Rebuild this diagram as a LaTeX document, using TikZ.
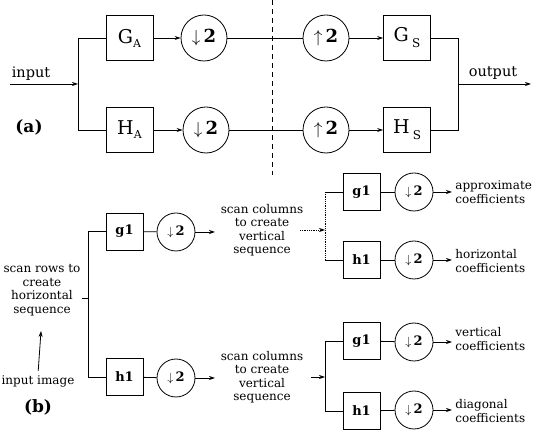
\documentclass[tikz,border=0pt]{standalone}
\usepackage{fontspec}
\setmainfont{DejaVu Serif}
\usetikzlibrary{arrows.meta}
\begin{document}
\begin{tikzpicture}[x=1pt,y=-1pt,line width=0.8pt,
  arr/.style={-{Stealth[length=6pt,width=4pt]}},
  bigbox/.style={draw,minimum width=47pt,minimum height=45pt,inner sep=0pt,font=\fontsize{19}{21}\selectfont},
  bigcirc/.style={draw,circle,minimum size=46pt,inner sep=0pt,font=\fontsize{18}{20}\selectfont},
  smallbox/.style={draw,minimum width=37pt,minimum height=37pt,inner sep=0pt,font=\fontsize{13}{15}\selectfont\bfseries},
  smallcirc/.style={draw,circle,minimum size=38pt,inner sep=0pt,font=\fontsize{13}{15}\selectfont},
  lbl/.style={font=\fontsize{14.5}{16}\selectfont,inner sep=0pt},
  txt/.style={font=\fontsize{12}{13.5}\selectfont,align=center,inner sep=1pt},
  ltxt/.style={font=\fontsize{12}{14}\selectfont,align=left,anchor=west,inner sep=0pt},
  tag/.style={font=\fontsize{17}{19}\selectfont\bfseries,inner sep=0pt}
]
\useasboundingbox (0,0) rectangle (536,435);
% ---------------- (a) ----------------
\node[bigbox] (GA) at (129.5,38) {G{\fontsize{11}{11}\selectfont\raisebox{-4pt}{A}}};
\node[bigbox] (HA) at (129.5,130) {H{\fontsize{11}{11}\selectfont\raisebox{-4pt}{A}}};
\node[bigcirc] (DA) at (204,38) {$\downarrow$\,\textbf{2}};
\node[bigcirc] (DB) at (206,130) {$\downarrow$\,\textbf{2}};
\node[bigcirc] (UA) at (326,38) {$\uparrow$\,\textbf{2}};
\node[bigcirc] (UB) at (326,130) {$\uparrow$\,\textbf{2}};
\node[bigbox] (GS) at (407,38) {G\,{\fontsize{12}{12}\selectfont\raisebox{-6pt}{S}}};
\node[bigbox] (HS) at (407,130) {H\,{\fontsize{12}{12}\selectfont\raisebox{-6pt}{S}}};
\coordinate (in) at (10,84);
\coordinate (bm) at (78,84);
\coordinate (bt) at (78,38);
\coordinate (bb) at (78,130);
\coordinate (oa) at (458,38);
\coordinate (ob) at (458,130);
\coordinate (om) at (458,84);
\coordinate (out) at (531,84);
\coordinate (d1) at (272,0);
\coordinate (d2) at (272,175);
\node[lbl] (inlbl) at (31,74) {input};
\node[lbl] (outlbl) at (493,73) {output};
\node[tag] (ta) at (29,127) {(a)};
\draw[arr] (in) -- (bm);
\draw (bt) -- (bb);
\draw (bt) -- (GA);
\draw (bb) -- (HA);
\draw[arr] (GA) -- (DA);
\draw[arr] (HA) -- (DB);
\draw (DA) -- (UA);
\draw (DB) -- (UB);
\draw[arr] (UA) -- (GS);
\draw[arr] (UB) -- (HS);
\draw (GS) -- (oa) -- (ob) -- (HS);
\draw[arr] (om) -- (out);
\draw[dash pattern=on 5pt off 4pt] (d1) -- (d2);
% ---------------- (b) ----------------
\node[smallbox] (g1L) at (124.5,231.5) {g1};
\node[smallbox] (h1L) at (124.5,377) {h1};
\node[smallcirc] (c1) at (176,232) {$\downarrow$\,\textbf{2}};
\node[smallcirc] (c2) at (176,378) {$\downarrow$\,\textbf{2}};
\coordinate (lv1) at (88,231.5);
\coordinate (lv2) at (88,377);
\coordinate (tk) at (88,298);
\coordinate (a1) at (215,232);
\coordinate (a2) at (215,378);
\draw (g1L) -- (lv1) -- (lv2) -- (h1L);
\draw (g1L) -- (c1);
\draw (h1L) -- (c2);
\draw[arr] (c1) -- (a1);
\draw[arr] (c2) -- (a2);
\node[txt] (rows) at (42,290) {scan rows to\\create\\horizontal\\sequence};
\draw (rows.east |- tk) -- (tk);
\node[txt] (img) at (38,381) {input image};
\draw[arr,shorten >=14pt,shorten <=3pt] (img.north) -- (rows.south);
\node[tag] (tb) at (38,407) {(b)};
\node[txt] (sc1) at (262,230) {scan columns\\to create\\vertical\\sequence};
\node[txt] (sc2) at (262,377) {scan columns\\to create\\vertical\\sequence};
% upper right
\node[smallbox] (g1a) at (361.5,192) {g1};
\node[smallbox] (h1a) at (361.5,260) {h1};
\node[smallcirc] (c3) at (414,192) {$\downarrow$\,\textbf{2}};
\node[smallcirc] (c4) at (414,260) {$\downarrow$\,\textbf{2}};
\coordinate (ua) at (325,192);
\coordinate (ub) at (325,260);
\coordinate (um) at (325,230);
\coordinate (us) at (300,230);
\draw[densely dotted] (ua) -- (ub);
\draw[densely dotted,arr] (us) -- (um);
\draw (ua) -- (g1a);
\draw (ub) -- (h1a);
\draw (g1a) -- (c3);
\draw (h1a) -- (c4);
\coordinate (e3) at (452,192);
\coordinate (e4) at (452,260);
\draw[arr] (c3) -- (e3);
\draw[arr] (c4) -- (e4);
\node[ltxt] (t3) at (455,192) {approximate\\coefficients};
\node[ltxt] (t4) at (455,261) {horizontal\\coefficients};
% lower right
\node[smallbox] (g1b) at (361.5,341) {g1};
\node[smallbox] (h1b) at (361.5,411) {h1};
\node[smallcirc] (c5) at (414,342) {$\downarrow$\,\textbf{2}};
\node[smallcirc] (c6) at (414,410) {$\downarrow$\,\textbf{2}};
\coordinate (va) at (325,341);
\coordinate (vb) at (325,411);
\coordinate (vm) at (325,377);
\coordinate (vs) at (311,377);
\draw (va) -- (vb);
\draw[arr] (vs) -- (vm);
\draw (va) -- (g1b);
\draw (vb) -- (h1b);
\draw (g1b) -- (c5);
\draw (h1b) -- (c6);
\coordinate (e5) at (452,342);
\coordinate (e6) at (452,410);
\draw[arr] (c5) -- (e5);
\draw[arr] (c6) -- (e6);
\node[ltxt] (t5) at (455,339) {vertical\\coefficients};
\node[ltxt] (t6) at (455,411) {diagonal\\coefficients};
\end{tikzpicture}
\end{document}
